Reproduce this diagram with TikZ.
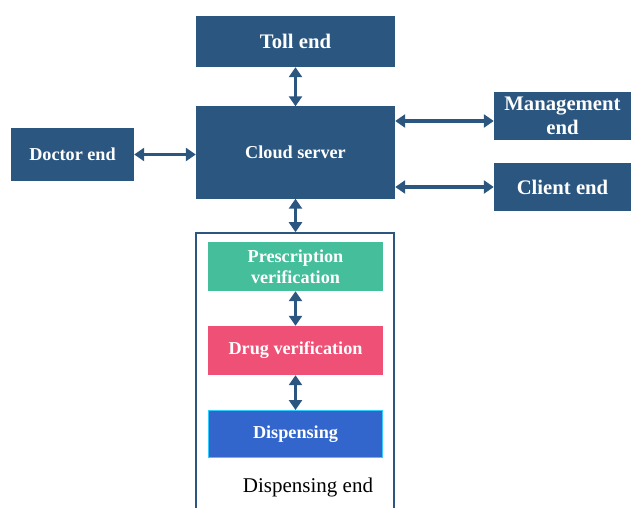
\documentclass[tikz,border=0pt]{standalone}
\usepackage{fontspec}
\setmainfont{Liberation Serif}
\usetikzlibrary{arrows.meta,positioning,calc}
\definecolor{navy}{HTML}{2B5680}
\definecolor{mint}{HTML}{45BE9B}
\definecolor{rose}{HTML}{EF5176}
\definecolor{royal}{HTML}{3366CC}
\definecolor{sky}{HTML}{33CCFF}
\tikzset{
    unit/.style={fill=navy, text=white, font=\bfseries\fontsize{18.2}{21}\selectfont, align=center, inner sep=0pt},
    unitL/.style={unit, font=\bfseries\fontsize{20.7}{24}\selectfont},
    stage/.style={text=white, font=\bfseries\fontsize{18.2}{21}\selectfont, align=center, inner sep=0pt,
                  minimum width=175pt, minimum height=49pt},
    frame/.style={draw=navy, line width=1.6pt},
    link/.style={draw=navy, line width=3.6pt, {Triangle[width=13pt,length=10pt]}-{Triangle[width=13pt,length=10pt]}},
}
\begin{document}
\begin{tikzpicture}[x=1pt,y=-1pt]
    \useasboundingbox (0,0) rectangle (631,508);
    \clip (0,0) rectangle (631,508);

    % Server and the ends round it
    \node[unitL, minimum width=199pt, minimum height=51pt] (toll) at (295.5,41.5) {Toll end};
    \node[unit, minimum width=199pt, minimum height=92pt] (cloud) at (295.5,152.5) {Cloud server};
    \node[unit, minimum width=123pt, minimum height=53pt] (doctor) at (72.5,154.5) {Doctor end};
    \node[unitL, minimum width=137pt, minimum height=48pt] (mgmt) at (562.5,116) {Management\\end};
    \node[unitL, minimum width=137pt, minimum height=48pt] (client) at (562.5,187) {Client end};

    % Dispensing end (open at the bottom)
    \node[frame, minimum width=198pt, minimum height=290pt, inner sep=0pt] (dispend) at (295,378) {};
    \node[stage, fill=mint] (presc) at (295.5,266.5) {Prescription\\verification};
    \node[stage, fill=rose] (drug) at (295.5,350.5) {Drug verification};
    \node[stage, fill=royal, draw=sky, line width=1pt, minimum width=174pt, minimum height=47pt] (disp) at (295.5,434) {Dispensing};
    \node[font=\fontsize{21}{24}\selectfont] (dlabel) at (308,487) {Dispensing end};

    % Links
    \draw[link] (toll) -- (cloud);
    \draw[link] (doctor) -- (doctor -| cloud.west);
    \draw[link] ([yshift=-5pt]mgmt.west -| cloud.east) -- ([yshift=-5pt]mgmt.west);
    \draw[link] (client.west -| cloud.east) -- (client.west);
    \draw[link] (cloud) -- (cloud |- dispend.north);
    \draw[link] (presc) -- (drug);
    \draw[link] (drug) -- (disp);
\end{tikzpicture}
\end{document}
